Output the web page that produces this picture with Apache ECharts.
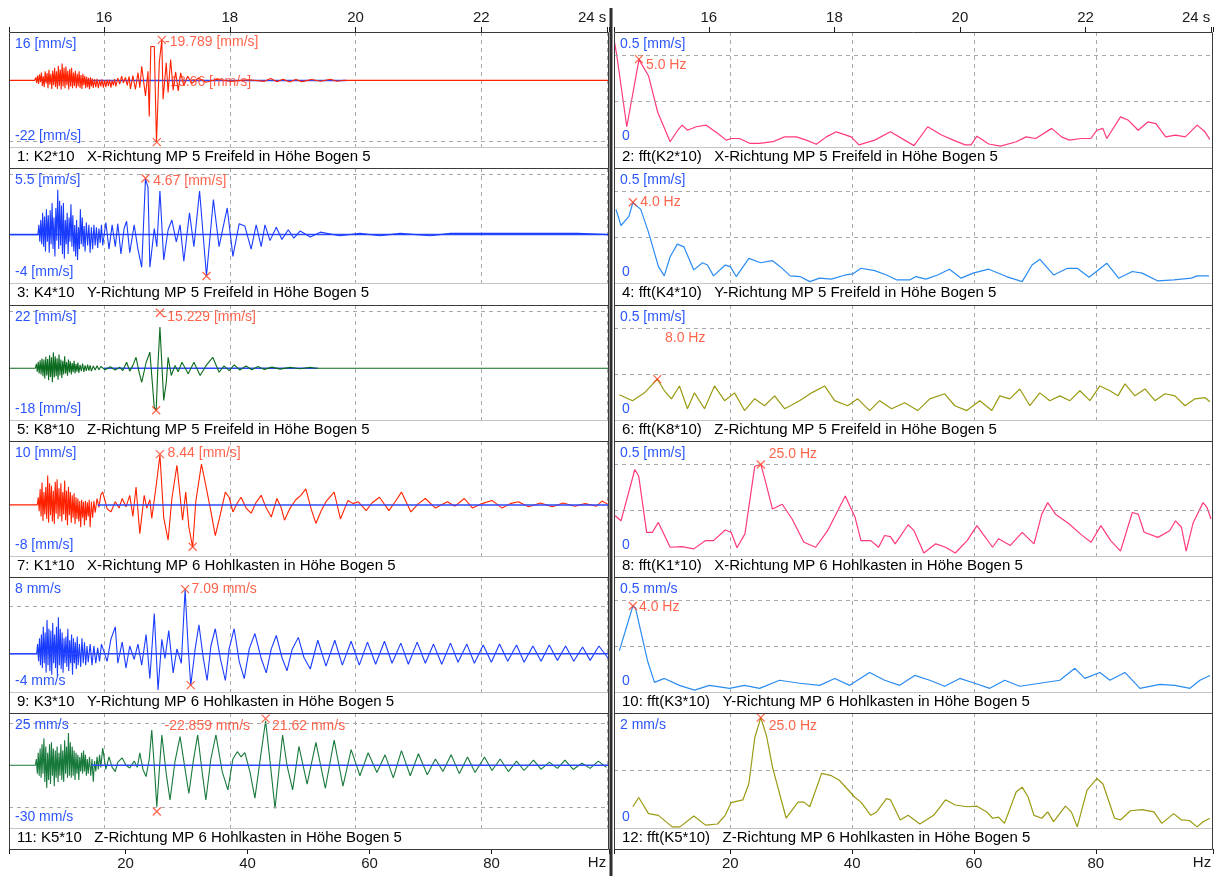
<!DOCTYPE html>
<html>
<head>
<meta charset="utf-8">
<title>Schwingungsmessung MP 5 / MP 6</title>
<script src="https://cdn.jsdelivr.net/npm/echarts@6.0.0/dist/echarts.min.js"></script>
<style>
html, body { margin: 0; padding: 0; background: #fff; }
#chart { width: 1216px; height: 876px; }
</style>
</head>
<body>
<div id="chart"></div>
<script>
// axis extents: time [s] on top, frequency [Hz] at the bottom
var timeRange = [14.49, 24.03];
var freqRange = [0.9, 99.25];

// velocity signals [t (s), v (mm/s)]
var k2 = [[14.49,0],[14.90,0],[14.915,1.0],[14.93,-0.8],[14.945,1.6],[14.96,-1.2],[14.975,2.0],[14.99,-0.6],[15.005,2.6],[15.02,-1.8],[15.035,1.4],[15.05,-2.2],[15.065,3.0],[15.08,-1.0],[15.095,2.4],[15.11,-2.6],[15.125,3.5],[15.14,-1.4],[15.155,2.2],[15.17,-2.8],[15.185,3.2],[15.20,-1.6],[15.215,4.2],[15.23,-2.2],[15.245,3.0],[15.26,-2.8],[15.275,4.8],[15.29,-1.8],[15.305,3.6],[15.32,-3.0],[15.335,5.6],[15.35,-2.0],[15.365,4.2],[15.38,-2.6],[15.395,4.6],[15.41,-1.6],[15.425,3.2],[15.44,-3.0],[15.455,3.8],[15.47,-2.0],[15.485,4.2],[15.50,-2.6],[15.515,2.6],[15.53,-1.8],[15.545,3.2],[15.56,-2.6],[15.575,2.2],[15.59,-2.0],[15.605,3.0],[15.62,-2.5],[15.635,1.8],[15.65,-2.8],[15.665,2.2],[15.68,-1.6],[15.695,1.5],[15.71,-2.6],[15.725,1.2],[15.74,-2.2],[15.755,0.9],[15.77,-2.9],[15.785,1.0],[15.80,-2.0],[15.815,0.6],[15.83,-2.5],[15.85,0.4],[15.87,-2.2],[15.89,0.5],[15.91,-2.6],[15.93,0.2],[15.95,-2.0],[15.97,0.4],[15.99,-2.4],[16.01,0.1],[16.03,-2.2],[16.05,0.3],[16.07,-1.8],[16.09,0.2],[16.11,-2.4],[16.13,0.0],[16.15,-1.6],[16.17,0.4],[16.19,-2.0],[16.22,0.8],[16.25,-1.2],[16.28,1.4],[16.31,-0.8],[16.34,1.0],[16.37,-1.6],[16.40,1.3],[16.42,-2.8],[16.46,1.6],[16.50,-3.0],[16.54,2.6],[16.57,-2.4],[16.60,4.7],[16.66,-5.1],[16.70,3.0],[16.72,-11.9],[16.745,11.2],[16.80,11.2],[16.835,-20.4],[16.88,6.0],[16.92,13.4],[16.94,-6.2],[16.99,5.8],[17.02,-4.0],[17.06,6.9],[17.10,-3.2],[17.14,2.8],[17.18,-3.5],[17.22,2.5],[17.27,-1.8],[17.33,1.4],[17.40,-1.0],[17.50,0.8],[17.62,-0.6],[17.80,0.4],[18.00,-0.3],[18.30,0.2],[18.55,-0.3],[18.65,0.6],[18.75,-0.4],[18.85,0.4],[18.95,-0.5],[19.05,0.3],[19.15,-0.4],[19.30,0.3],[19.45,-0.3],[19.60,0.4],[19.70,-0.3],[19.80,0],[24.03,0]];
var k4 = [[14.49,0],[14.95,0],[14.965,0.8],[14.98,-0.6],[14.995,1.2],[15.01,-0.8],[15.025,1.8],[15.04,-1.0],[15.055,1.5],[15.07,-1.4],[15.085,2.1],[15.10,-0.6],[15.115,1.6],[15.13,-1.5],[15.145,2.0],[15.16,-0.8],[15.175,2.6],[15.19,-1.2],[15.205,1.4],[15.22,-1.8],[15.235,2.2],[15.25,-0.5],[15.265,3.7],[15.28,-1.2],[15.295,2.8],[15.31,-0.9],[15.325,2.4],[15.34,-1.6],[15.355,2.6],[15.37,-2.0],[15.385,1.2],[15.40,-0.8],[15.415,1.8],[15.43,-1.6],[15.445,1.4],[15.46,-0.6],[15.475,2.5],[15.49,-1.0],[15.505,1.6],[15.52,-1.4],[15.535,0.8],[15.55,-1.8],[15.565,1.2],[15.58,-2.1],[15.595,0.6],[15.61,-1.2],[15.625,2.1],[15.64,-0.8],[15.655,1.4],[15.67,-1.0],[15.685,0.7],[15.70,-1.4],[15.72,1.0],[15.74,-0.9],[15.76,0.8],[15.78,-1.5],[15.80,0.6],[15.82,-1.2],[15.84,0.8],[15.86,-0.9],[15.88,0.6],[15.90,-1.1],[15.92,0.5],[15.94,-0.7],[15.96,0.8],[15.98,-0.9],[16.03,1.0],[16.08,-1.2],[16.13,0.8],[16.18,-1.0],[16.22,0.9],[16.27,-1.6],[16.32,0.5],[16.36,1.1],[16.41,-1.5],[16.48,0.8],[16.54,-1.2],[16.60,-2.7],[16.66,4.6],[16.70,3.9],[16.73,-2.7],[16.80,0.5],[16.84,-1.0],[16.89,3.6],[16.95,-2.1],[17.02,0.4],[17.08,1.2],[17.15,-0.6],[17.21,0.8],[17.27,-2.2],[17.36,1.8],[17.43,-1.0],[17.52,3.6],[17.63,-3.4],[17.74,2.9],[17.83,-1.0],[17.89,0.5],[17.96,2.2],[18.05,-1.8],[18.15,0.9],[18.24,0.7],[18.34,-1.2],[18.42,0.8],[18.50,-1.0],[18.56,0.8],[18.64,-0.5],[18.74,0.6],[18.83,-0.4],[18.93,0.4],[19.02,-0.3],[19.12,0.3],[19.28,-0.2],[19.44,0.2],[19.75,-0.1],[20.07,0.1],[20.39,-0.1],[20.71,0.1],[21.19,-0.1],[21.51,0.1],[22.62,0.1],[23.53,0.1],[24.03,0]];
var k8 = [[14.49,0],[14.91,0],[14.925,1.5],[14.94,-1.2],[14.955,2.2],[14.97,-1.8],[14.985,2.8],[15.00,-2.2],[15.015,3.4],[15.03,-2.8],[15.045,3.0],[15.06,-3.6],[15.075,4.0],[15.09,-2.5],[15.105,3.2],[15.12,-4.2],[15.135,4.5],[15.15,-3.0],[15.165,3.8],[15.18,-4.9],[15.195,5.6],[15.21,-3.2],[15.225,4.2],[15.24,-2.8],[15.255,3.5],[15.27,-4.0],[15.285,4.8],[15.30,-2.5],[15.315,3.0],[15.33,-3.4],[15.345,2.6],[15.36,-2.2],[15.375,4.2],[15.39,-1.8],[15.405,2.2],[15.42,-2.6],[15.435,3.0],[15.45,-1.5],[15.465,2.4],[15.48,-2.2],[15.495,1.8],[15.51,-1.4],[15.525,2.6],[15.54,-1.8],[15.555,1.5],[15.57,-1.2],[15.585,2.0],[15.60,-1.6],[15.62,1.2],[15.64,-1.0],[15.66,1.6],[15.68,-1.3],[15.70,1.0],[15.72,-0.9],[15.74,1.3],[15.76,-0.8],[15.78,1.0],[15.80,-1.0],[15.83,0.8],[15.86,-0.6],[15.89,0.9],[15.92,-0.5],[15.95,0.6],[16.02,-0.5],[16.10,0.5],[16.18,-0.6],[16.25,0.4],[16.30,-0.8],[16.36,2.1],[16.41,-1.0],[16.46,1.0],[16.51,3.8],[16.56,-1.5],[16.60,-4.9],[16.67,2.0],[16.73,5.6],[16.80,-13.6],[16.83,-14.7],[16.86,2.0],[16.89,14.3],[16.95,-11.2],[16.99,-5.0],[17.02,3.8],[17.07,-2.5],[17.13,1.0],[17.18,-1.2],[17.24,2.1],[17.34,-1.9],[17.43,2.1],[17.53,-2.5],[17.62,0.8],[17.73,3.8],[17.83,-1.4],[17.91,0.8],[17.99,-0.8],[18.07,1.2],[18.16,-0.6],[18.26,0.8],[18.35,-0.5],[18.45,0.6],[18.55,-0.4],[18.67,0.4],[18.80,-0.3],[18.96,0.3],[19.12,-0.2],[19.28,0.3],[19.37,0],[24.03,0]];
var k1 = [[14.49,0],[14.94,0],[14.955,1.2],[14.97,-1.0],[14.985,2.5],[15.00,-1.8],[15.015,3.5],[15.03,-2.5],[15.045,2.0],[15.06,-1.5],[15.075,2.8],[15.09,-2.2],[15.105,4.6],[15.12,-2.8],[15.135,3.4],[15.15,-1.6],[15.165,3.0],[15.18,-2.6],[15.195,2.2],[15.21,-3.0],[15.225,3.6],[15.24,-1.4],[15.255,4.0],[15.27,-2.2],[15.285,2.6],[15.30,-1.8],[15.315,3.4],[15.33,-2.6],[15.345,2.0],[15.36,-1.5],[15.375,3.8],[15.39,-2.4],[15.405,2.2],[15.42,-3.2],[15.435,2.8],[15.45,-1.6],[15.465,2.0],[15.48,-2.8],[15.495,1.5],[15.51,-2.0],[15.525,1.8],[15.54,-3.0],[15.555,1.2],[15.57,-2.2],[15.585,1.0],[15.60,-2.6],[15.615,0.6],[15.63,-3.5],[15.645,0.8],[15.66,-2.0],[15.675,0.5],[15.69,-3.2],[15.705,0.6],[15.72,-2.4],[15.735,0.4],[15.75,-1.8],[15.765,0.8],[15.78,-3.5],[15.80,0.5],[15.82,-2.0],[15.84,0.6],[15.86,-1.2],[15.89,1.0],[15.92,-0.4],[15.95,1.6],[15.98,2.0],[16.05,-0.6],[16.11,-1.1],[16.18,0.5],[16.24,-0.5],[16.29,1.0],[16.35,-0.3],[16.41,1.5],[16.46,-1.8],[16.51,2.8],[16.57,-4.5],[16.64,1.5],[16.68,-0.5],[16.73,0.8],[16.76,-2.1],[16.83,3.0],[16.89,7.8],[16.95,-2.0],[17.02,-5.5],[17.08,1.0],[17.16,6.2],[17.25,-2.4],[17.30,2.0],[17.35,-3.5],[17.41,-6.6],[17.46,0.5],[17.55,6.4],[17.62,3.0],[17.70,-1.0],[17.77,-4.8],[17.85,-1.5],[17.93,2.0],[17.99,1.2],[18.05,-1.1],[18.12,0.3],[18.18,1.2],[18.26,-0.5],[18.34,-1.3],[18.42,0.4],[18.50,1.5],[18.58,-0.5],[18.66,-1.9],[18.75,1.0],[18.82,-0.5],[18.87,-2.4],[18.96,-0.5],[19.05,0.8],[19.13,1.5],[19.21,2.5],[19.29,-0.5],[19.37,-2.9],[19.45,-1.0],[19.53,0.5],[19.66,2.0],[19.76,-2.2],[19.88,0.7],[19.96,0.2],[20.04,0.5],[20.17,-0.9],[20.26,0.3],[20.38,1.2],[20.53,-0.9],[20.63,0.5],[20.73,2.0],[20.88,-1.1],[21.00,0.2],[21.11,1.0],[21.27,-0.5],[21.46,0.5],[21.58,-0.2],[21.73,1.0],[21.86,-0.5],[22.01,0.2],[22.17,0.7],[22.33,-0.5],[22.46,0.2],[22.59,0.5],[22.75,-0.3],[22.94,0.3],[23.13,-0.3],[23.30,0.3],[23.49,-0.2],[23.65,0.2],[23.83,-0.2],[23.92,0.6],[24.03,0]];
var k3 = [[14.49,0],[14.93,0],[14.945,1.0],[14.96,-0.8],[14.975,1.6],[14.99,-1.2],[15.005,2.0],[15.02,-1.5],[15.035,2.8],[15.05,-1.0],[15.065,2.2],[15.08,-2.0],[15.095,3.5],[15.11,-1.2],[15.125,2.6],[15.14,-1.8],[15.155,2.4],[15.17,-2.2],[15.185,3.2],[15.20,-1.0],[15.215,2.0],[15.23,-1.5],[15.245,2.8],[15.26,-2.4],[15.275,3.8],[15.29,-1.2],[15.305,2.6],[15.32,-1.6],[15.335,2.2],[15.35,-2.0],[15.365,1.6],[15.38,-1.0],[15.395,1.8],[15.41,-1.4],[15.425,2.6],[15.44,-1.8],[15.455,1.4],[15.47,-1.0],[15.485,2.0],[15.50,-2.2],[15.515,1.6],[15.53,-1.0],[15.545,1.2],[15.56,-1.6],[15.575,1.8],[15.59,-1.2],[15.61,1.0],[15.63,-1.4],[15.65,1.6],[15.67,-1.0],[15.69,1.2],[15.71,-1.2],[15.73,0.8],[15.75,-0.9],[15.78,1.0],[15.81,-1.2],[15.84,0.8],[15.87,-1.0],[15.90,0.6],[15.93,-0.8],[15.96,1.0],[16.05,-0.8],[16.11,1.5],[16.18,2.8],[16.22,-1.0],[16.29,1.2],[16.35,-1.5],[16.41,0.8],[16.48,-0.6],[16.54,1.0],[16.60,-1.2],[16.67,2.0],[16.73,-2.6],[16.80,4.2],[16.86,-3.8],[16.92,1.5],[16.97,-0.5],[17.03,2.4],[17.10,-2.0],[17.16,0.5],[17.23,-1.0],[17.29,6.7],[17.34,0.5],[17.38,-3.3],[17.45,0.5],[17.51,3.0],[17.58,-0.5],[17.64,-2.8],[17.70,0.8],[17.77,2.6],[17.85,-0.5],[17.93,-2.8],[17.99,0.5],[18.07,2.6],[18.15,-0.8],[18.23,-2.6],[18.31,0.5],[18.40,2.1],[18.50,-0.5],[18.58,-2.0],[18.66,0.5],[18.74,1.9],[18.83,-0.4],[18.91,-1.8],[18.99,0.4],[19.09,1.7],[19.18,-0.4],[19.28,-1.6],[19.40,1.4],[19.53,-1.3],[19.67,1.4],[19.79,-1.2],[19.93,1.3],[20.06,-1.2],[20.19,1.2],[20.32,-1.1],[20.46,1.3],[20.58,-1.0],[20.72,1.1],[20.84,-1.1],[20.98,1.2],[21.11,-1.0],[21.24,1.0],[21.37,-1.1],[21.51,1.1],[21.63,-0.9],[21.77,1.0],[21.89,-1.0],[22.03,0.9],[22.16,-0.9],[22.29,1.0],[22.42,-0.8],[22.56,0.9],[22.68,-0.9],[22.82,0.8],[22.95,-0.8],[23.08,0.9],[23.21,-0.7],[23.34,0.8],[23.47,-0.8],[23.61,0.7],[23.73,-0.7],[23.87,0.8],[24.02,-0.5]];
var k5 = [[14.49,0],[14.91,0],[14.925,3],[14.94,-4],[14.955,6],[14.97,-5],[14.985,8],[15.00,-6],[15.015,10],[15.03,-4],[15.045,12.9],[15.06,-8],[15.075,9],[15.09,-10.9],[15.105,6],[15.12,-7],[15.135,10],[15.15,-9],[15.165,11],[15.18,-5],[15.195,8],[15.21,-10],[15.225,7],[15.24,-6],[15.255,9],[15.27,-8],[15.285,6],[15.30,-5],[15.315,10],[15.33,-7],[15.345,7],[15.36,-8],[15.375,12],[15.39,-4],[15.405,9],[15.42,-6],[15.435,15.4],[15.45,-5],[15.465,11],[15.48,-6],[15.495,9],[15.51,-5],[15.525,7],[15.54,-7],[15.555,6],[15.57,-4],[15.585,5],[15.60,-7],[15.615,4],[15.63,-3],[15.645,6],[15.66,-4],[15.675,7],[15.69,-3],[15.705,5],[15.72,-5],[15.735,3],[15.75,-4],[15.77,4],[15.79,-5],[15.81,3],[15.83,-7.9],[15.85,2],[15.87,-3],[15.89,4],[15.91,-2],[15.93,5],[15.95,-1],[15.98,8.2],[16.03,-2],[16.08,4],[16.13,-1],[16.18,-3],[16.22,1.5],[16.29,3.5],[16.35,0],[16.41,-1.3],[16.48,2],[16.53,-1],[16.57,5.9],[16.62,-2],[16.67,-5.4],[16.72,3],[16.76,16.9],[16.81,-5],[16.84,-19.8],[16.89,2],[16.92,14.5],[16.99,-4],[17.05,-16.6],[17.13,2],[17.21,13.7],[17.29,-2],[17.35,-13.5],[17.42,2],[17.49,14.5],[17.56,-3],[17.62,-16.6],[17.70,3],[17.78,14.5],[17.88,-3],[17.97,-11.8],[18.05,3],[18.12,6.5],[18.18,4],[18.24,6.0],[18.32,-3],[18.40,-15.7],[18.48,2],[18.57,21.3],[18.64,2],[18.72,-20.7],[18.79,0],[18.84,14.5],[18.91,0],[19.00,-11.8],[19.10,9],[19.23,-9],[19.37,11],[19.52,-11],[19.66,12],[19.80,-10],[19.93,7.5],[20.07,-5],[20.20,6],[20.34,-3.5],[20.47,5],[20.60,-6],[20.73,7],[20.87,-5],[21.00,5.5],[21.14,-4.5],[21.27,3],[21.39,-3],[21.52,5],[21.65,-4],[21.78,4],[21.90,-3.5],[22.05,4],[22.17,-2.5],[22.30,3],[22.43,-3],[22.56,2],[22.68,-2.5],[22.83,2.5],[22.95,-2],[23.08,1.5],[23.21,-1.5],[23.33,2.5],[23.46,-2],[23.60,1],[23.73,-1.5],[23.86,2],[23.99,-1]];

// spectra [f (Hz), amplitude (mm/s)]
var fftK2 = [[0.95,0.46],[1.35,0.40],[3.0,0.088],[3.32,0.088],[5.0,0.38],[6.56,0.31],[8.09,0.15],[10.12,0.023],[11.37,0.073],[12.10,0.095],[12.97,0.073],[14.40,0.088],[16.04,0.095],[17.95,0.059],[19.33,0.03],[20.15,0.037],[21.51,0.037],[23.16,0.016],[24.80,0.016],[26.98,0.023],[28.91,0.044],[30.83,0.044],[32.47,0.03],[34.12,0.012],[35.76,0.044],[37.40,0.066],[39.84,0.044],[41.12,0.009],[43.70,0.03],[46.29,0.066],[50.16,0.006],[52.41,0.088],[54.68,0.052],[56.61,0.03],[58.55,0.009],[59.52,0.009],[60.49,0.047],[62.43,0.013],[64.37,0.004],[66.95,0.023],[68.56,0.044],[70.16,0.037],[72.77,0.081],[74.38,0.044],[75.66,0.03],[77.60,0.037],[79.19,0.037],[80.18,0.073],[81.17,0.081],[81.81,0.037],[84.06,0.131],[85.36,0.116],[86.97,0.073],[88.56,0.109],[89.88,0.102],[91.49,0.044],[93.1,0.052],[94.7,0.044],[96.65,0.095],[97.93,0.066],[98.72,0.033]];
var fftK4 = [[1.22,0.32],[2.05,0.25],[3.35,0.29],[4.0,0.35],[5.29,0.32],[6.57,0.22],[8.20,0.071],[9.15,0.031],[10.12,0.114],[11.29,0.169],[12.39,0.157],[14.00,0.057],[15.43,0.088],[16.25,0.078],[17.24,0.031],[19.16,0.078],[20.0,0.071],[20.97,0.028],[23.04,0.107],[24.96,0.088],[26.92,0.097],[28.20,0.071],[29.83,0.031],[31.44,0.028],[33.05,0.006],[34.66,0.021],[36.60,0.017],[38.87,0.035],[40.15,0.040],[41.45,0.064],[43.70,0.054],[45.64,0.035],[47.26,0.014],[49.52,0.014],[50.48,0.028],[52.10,0.017],[54.04,0.035],[55.97,0.060],[57.91,0.021],[59.85,0.043],[62.43,0.060],[65.34,0.028],[67.92,0.006],[69.53,0.078],[70.83,0.103],[73.08,0.035],[75.35,0.064],[76.96,0.064],[78.90,0.025],[81.81,0.086],[83.75,0.021],[86.00,0.050],[87.61,0.043],[90.21,0.009],[92.79,0.014],[95.70,0.021],[96.65,0.031],[98.59,0.031]];
var fftK8 = [[1.79,0.11],[3.93,0.084],[5.9,0.118],[8.0,0.178],[9.18,0.127],[10.33,0.092],[11.65,0.148],[12.96,0.049],[14.11,0.118],[15.76,0.049],[17.4,0.148],[19.05,0.084],[20.69,0.118],[22.33,0.041],[23.98,0.092],[25.62,0.062],[27.27,0.105],[28.91,0.049],[31.37,0.084],[33.35,0.118],[35.48,0.148],[37.13,0.084],[39.26,0.062],[40.91,0.092],[42.88,0.041],[44.52,0.084],[46.49,0.049],[48.63,0.075],[50.77,0.041],[52.74,0.092],[55.2,0.114],[56.85,0.062],[58.82,0.041],[60.96,0.084],[62.93,0.041],[64.24,0.105],[65.89,0.092],[67.53,0.135],[69.18,0.062],[70.81,0.118],[72.46,0.084],[74.1,0.105],[75.75,0.084],[77.39,0.127],[79.04,0.084],[80.68,0.148],[82.32,0.127],[83.64,0.105],[84.79,0.157],[86.43,0.105],[88.08,0.135],[89.72,0.084],[91.37,0.114],[93.0,0.105],[94.65,0.062],[96.29,0.092],[97.94,0.097],[98.76,0.079]];
var fftK1 = [[1.08,0.175],[2.05,0.153],[4.32,0.376],[4.96,0.347],[6.26,0.103],[7.21,0.103],[8.18,0.146],[10.12,0.038],[12.06,0.041],[14.00,0.031],[15.94,0.067],[17.24,0.067],[19.16,0.113],[20.13,0.103],[21.10,0.036],[22.40,0.096],[24.01,0.39],[25.0,0.398],[25.62,0.34],[26.92,0.204],[28.53,0.225],[30.14,0.161],[32.08,0.060],[34.02,0.038],[35.97,0.110],[38.87,0.261],[40.48,0.168],[41.45,0.067],[43.06,0.067],[44.35,0.038],[45.32,0.089],[46.29,0.084],[47.07,0.053],[49.19,0.136],[50.16,0.110],[51.78,0.013],[53.72,0.053],[55.33,0.038],[56.94,0.013],[58.88,0.067],[60.49,0.132],[61.46,0.096],[63.07,0.038],[64.04,0.075],[65.98,0.046],[67.92,0.103],[69.86,0.053],[71.14,0.182],[72.11,0.232],[73.39,0.182],[75.66,0.139],[77.60,0.093],[79.23,0.060],[80.84,0.132],[82.45,0.067],[84.06,0.021],[86.00,0.189],[86.97,0.182],[87.94,0.103],[90.21,0.081],[92.14,0.110],[93.10,0.153],[94.07,0.125],[94.84,0.021],[96.01,0.146],[97.62,0.232],[98.26,0.211],[98.92,0.161]];
var fftK3 = [[1.79,0.18],[4.0,0.374],[4.42,0.366],[6.39,0.137],[7.54,0.042],[9.18,0.059],[11.65,0.029],[14.11,0.008],[16.58,0.029],[19.87,0.016],[22.33,0.029],[24.80,0.016],[28.09,0.051],[31.37,0.038],[34.66,0.029],[37.13,0.059],[39.59,0.029],[42.88,0.085],[45.34,0.051],[47.81,0.029],[50.27,0.072],[52.74,0.051],[55.20,0.025],[57.67,0.059],[60.13,0.038],[62.60,0.016],[65.06,0.051],[67.53,0.025],[70.81,0.038],[74.10,0.051],[76.57,0.103],[78.21,0.059],[80.68,0.085],[82.32,0.051],[84.79,0.085],[87.25,0.016],[90.54,0.033],[93.00,0.029],[95.47,0.016],[97.11,0.051],[98.76,0.072]];
var fftK5 = [[3.99,0.37],[4.96,0.53],[6.57,0.25],[8.20,0.22],[10.45,0.02],[11.73,0.02],[14.00,0.21],[15.94,0.05],[17.88,0.07],[19.16,0.22],[20.13,0.44],[22.07,0.49],[23.04,0.77],[24.01,1.57],[25.0,1.92],[25.95,1.60],[26.92,1.06],[29.17,0.17],[31.11,0.45],[32.08,0.45],[33.05,0.37],[34.99,0.95],[36.60,0.91],[37.90,0.83],[40.48,0.53],[41.45,0.45],[43.06,0.22],[44.03,0.28],[45.64,0.51],[46.29,0.49],[47.90,0.14],[49.19,0.22],[51.12,0.07],[53.38,0.22],[55.33,0.49],[56.94,0.40],[58.88,0.37],[60.49,0.38],[62.10,0.28],[63.07,0.17],[64.04,0.19],[65.01,0.08],[66.95,0.63],[67.92,0.71],[68.89,0.54],[69.86,0.22],[71.14,0.17],[72.11,0.28],[73.08,0.11],[75.02,0.38],[75.99,0.28],[76.96,0.02],[78.57,0.66],[80.18,0.86],[81.17,0.77],[83.09,0.17],[84.06,0.14],[85.69,0.30],[87.61,0.32],[89.55,0.28],[90.85,0.08],[92.79,0.25],[94.07,0.14],[95.35,0.13],[96.65,0.02],[97.62,0.11],[98.72,0.17]];

// panels in reading order: left = time signal, right = its spectrum
var panelData = [k2, fftK2, k4, fftK4, k8, fftK8, k1, fftK1, k3, fftK3, k5, fftK5];
var yMin = [-22, 0, -4, 0, -18, 0, -8, 0, -4, 0, -30, 0];
var yMax = [16, 0.5, 5.5, 0.5, 22, 0.5, 10, 0.5, 8, 0.5, 25, 2];
var yTopText = ['16 [mm/s]', '0.5 [mm/s]', '5.5 [mm/s]', '0.5 [mm/s]', '22 [mm/s]', '0.5 [mm/s]', '10 [mm/s]', '0.5 [mm/s]', '8 mm/s', '0.5 mm/s', '25 mm/s', '2 mm/s'];
var yBotText = ['-22 [mm/s]', '0', '-4 [mm/s]', '0', '-18 [mm/s]', '0', '-8 [mm/s]', '0', '-4 mm/s', '0', '-30 mm/s', '0'];
var captions = [
	'1: K2*10   X-Richtung MP 5 Freifeld in Höhe Bogen 5',
	'2: fft(K2*10)   X-Richtung MP 5 Freifeld in Höhe Bogen 5',
	'3: K4*10   Y-Richtung MP 5 Freifeld in Höhe Bogen 5',
	'4: fft(K4*10)   Y-Richtung MP 5 Freifeld in Höhe Bogen 5',
	'5: K8*10   Z-Richtung MP 5 Freifeld in Höhe Bogen 5',
	'6: fft(K8*10)   Z-Richtung MP 5 Freifeld in Höhe Bogen 5',
	'7: K1*10   X-Richtung MP 6 Hohlkasten in Höhe Bogen 5',
	'8: fft(K1*10)   X-Richtung MP 6 Hohlkasten in Höhe Bogen 5',
	'9: K3*10   Y-Richtung MP 6 Hohlkasten in Höhe Bogen 5',
	'10: fft(K3*10)   Y-Richtung MP 6 Hohlkasten in Höhe Bogen 5',
	'11: K5*10   Z-Richtung MP 6 Hohlkasten in Höhe Bogen 5',
	'12: fft(K5*10)   Z-Richtung MP 6 Hohlkasten in Höhe Bogen 5'
];
// horizontal dashed grid values per panel
var gridValues = [[-20], [0.2, 0.4], [5], [0.2, 0.4], [20], [0.2, 0.4], [], [0.2, 0.4], [5], [0.2, 0.4], [20, -20], [1]];
// blue zero line [from, to] in seconds, and whether it lies over the signal
var zeroSpan = [[15.0, 19.85], null, [14.49, 24.03], null, [16.0, 19.4], null, [15.9, 24.03], null, [14.49, 24.03], null, [15.8, 24.03], null];
var zeroOver = [false, false, false, false, false, false, true, false, true, false, true, false];
// cursor marks (x) and their texts
var peaks = [
	[[16.92, 13.4], [16.84, -20.4]], [[5.0, 0.382]],
	[[16.66, 4.65], [17.63, -3.42]], [[4.0, 0.351]],
	[[16.89, 19.3], [16.83, -14.6]], [[8.0, 0.178]],
	[[16.89, 7.95], [17.41, -6.55]], [[25.0, 0.398]],
	[[17.29, 6.73], [17.38, -3.29]], [[4.0, 0.374]],
	[[18.57, 22.3], [16.84, -22.1]], [[25.0, 1.92]]
];
var notes = [
	[[16.98, 12.36, '-19.789 [mm/s]'], [17.06, -0.75, '13.66 [mm/s]']], [[6.23, 0.353, '5.0 Hz']],
	[[16.79, 4.37, '4.67 [mm/s]']], [[5.29, 0.351, '4.0 Hz']],
	[[16.94, 17.6, '-15.229 [mm/s]']], [[9.35, 0.355, '8.0 Hz']],
	[[17.02, 8.0, '8.44 [mm/s]']], [[26.39, 0.441, '25.0 Hz']],
	[[17.40, 6.63, '7.09 mm/s']], [[5.08, 0.366, '4.0 Hz']],
	[[16.97, 18.7, '-22.859 mm/s'], [18.68, 18.7, '21.62 mm/s']], [[26.39, 1.76, '25.0 Hz']]
];

var lineColor = ['#ff2200', '#ff3a78', '#1a3cff', '#2a8cf2', '#0b6b1f', '#9a9a12', '#ff2200', '#ff3a78', '#1a3cff', '#2a8cf2', '#17793b', '#9a9a12'];
var RED = '#ff3c1e', BLUE_TXT = '#2a55ff', ZERO = '#2a48ff', GRIDC = '#a8a8a8', INK = '#1a1a1a';
var FONT = '"Liberation Sans", Arial, sans-serif';

// layout in px
var rowTop = [32, 168, 305, 441, 577, 713], rowEnd = 849;
var colLeft = [9, 614], colWidth = [600, 599];
var plotH = 115;

function timeLabel(v) {
	var r = Math.round(v);
	if (Math.abs(v - r) > 1e-6 || r % 2) return '';
	return r === 24 ? '{u|24 s}' : '' + r;
}
function freqLabel(v) {
	var r = Math.round(v);
	if (Math.abs(v - r) > 1e-6 || r % 20 || r === 0) return '';
	return '' + r;
}
function axisCfg(grid, range, pos, showText, isTime, withSplit) {
	return {
		gridIndex: grid, type: 'value', min: range[0], max: range[1], position: pos,
		offset: pos === 'bottom' ? 21 : 0,
		axisLine: { show: false, onZero: false },
		axisTick: { show: showText, inside: false, length: 5, lineStyle: { color: INK } },
		axisLabel: {
			show: showText, margin: 7, formatter: isTime ? timeLabel : freqLabel,
			fontSize: 15, color: INK, fontFamily: FONT,
			rich: { u: { fontSize: 15, color: INK, fontFamily: FONT, padding: [0, 30, 0, 0] } }
		},
		splitLine: { show: withSplit, showMinLine: false, showMaxLine: false, lineStyle: { color: GRIDC, type: [4, 4], width: 1 } }
	};
}
function txt(x, y, text, color, size, align) {
	return {
		type: 'text', z: 101, x: x, y: y,
		style: { text: text, fill: color, font: size + 'px ' + FONT, align: align || 'left', verticalAlign: 'middle', textAlign: align || 'left', textVerticalAlign: 'middle' }
	};
}

function buildOption() {
	var option = {
		animation: false,
		backgroundColor: '#fff',
		textStyle: { fontFamily: FONT },
		grid: [], xAxis: [], yAxis: [], series: [],
		graphic: { elements: [] }
	};
	var g = option.graphic.elements;
	for (var i = 0; i < 12; i++) {
		var row = Math.floor(i / 2), col = i % 2;
		var py = rowTop[row], px = colLeft[col], pw = colWidth[col];
		var ph = (row < 5 ? rowTop[row + 1] : rowEnd) - py;
		option.grid.push({ left: px, top: py, width: pw, height: plotH, containLabel: false });
		if (col === 0) option.xAxis.push(axisCfg(i, timeRange, 'top', row === 0, true, true));
		else option.xAxis.push(axisCfg(i, freqRange, 'bottom', row === 5, false, true));
		option.yAxis.push({ gridIndex: i, type: 'value', min: yMin[i], max: yMax[i], show: false });

		var s = {
			type: 'line', xAxisIndex: i, yAxisIndex: i, data: panelData[i],
			symbol: 'none', z: 3, lineStyle: { color: lineColor[i], width: col === 0 ? 1.1 : 1.2 }
		};
		if (gridValues[i].length) {
			s.markLine = {
				silent: true, symbol: ['none', 'none'], label: { show: false },
				lineStyle: { color: GRIDC, type: [4, 4], width: 1 },
				data: gridValues[i].map(function (v) { return { yAxis: v }; })
			};
		}
		option.series.push(s);
		if (zeroSpan[i]) {
			option.series.push({
				type: 'line', xAxisIndex: i, yAxisIndex: i, symbol: 'none',
				data: [[zeroSpan[i][0], 0], [zeroSpan[i][1], 0]],
				z: zeroOver[i] ? 4 : 2, lineStyle: { color: ZERO, width: 1.5 }
			});
		}
		option.series.push({
			type: 'scatter', xAxisIndex: i, yAxisIndex: i, data: peaks[i], z: 5,
			symbol: 'path://M0 0L10 10M10 0L0 10', symbolSize: 8,
			itemStyle: { color: 'transparent', borderColor: RED, borderWidth: 1.2 }
		});
		option.series.push({
			type: 'scatter', xAxisIndex: i, yAxisIndex: i, z: 5, symbolSize: 1,
			itemStyle: { color: 'transparent' },
			data: notes[i].map(function (n) { return { value: [n[0], n[1]], name: n[2] }; }),
			label: { show: true, position: [0, 0], align: 'left', verticalAlign: 'middle', formatter: '{b}', color: RED, fontSize: 14, fontFamily: FONT }
		});

		// panel frame, caption strip and range texts
		g.push({ type: 'rect', z: 100, shape: { x: px + 0.5, y: py + 0.5, width: pw - 1, height: ph }, style: { fill: 'none', stroke: '#3a3a3a', lineWidth: 1 } });
		g.push({ type: 'line', z: 100, shape: { x1: px + 1, y1: py + plotH + 0.5, x2: px + pw - 1, y2: py + plotH + 0.5 }, style: { stroke: '#c4c4c4', lineWidth: 1 } });
		g.push(txt(px + 8, py + 125, captions[i], '#000', 15));
		g.push(txt(px + 6, py + 12, yTopText[i], BLUE_TXT, 14));
		g.push(txt(px + (col ? 8 : 6), py + 104.5, yBotText[i], BLUE_TXT, 14));
	}
	// extra scales: time on top of the right column, Hz below the left column
	option.xAxis.push(axisCfg(1, timeRange, 'top', true, true, false));
	option.xAxis.push(axisCfg(10, freqRange, 'bottom', true, false, false));

	// column divider and unit texts
	g.push({ type: 'rect', z: 102, shape: { x: 609.5, y: 8, width: 3, height: 868 }, style: { fill: '#2e2e2e' } });
	g.push(txt(597, 863, 'Hz', INK, 15, 'center'));
	g.push(txt(1202, 863, 'Hz', INK, 15, 'center'));
	return option;
}

var chart = echarts.init(document.getElementById('chart'));
chart.setOption(buildOption());
</script>
</body>
</html>
